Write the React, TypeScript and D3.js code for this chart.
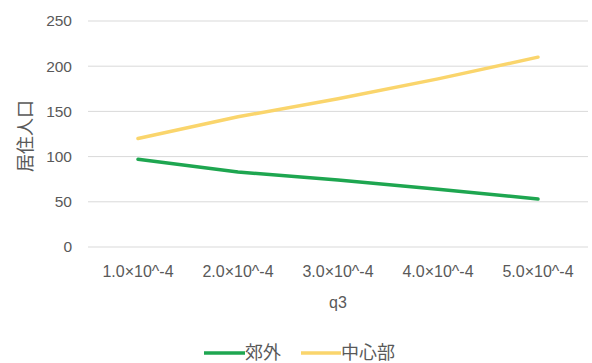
import React from 'react';
import { scaleBand, scaleLinear, line } from 'd3';

const categories = ['1.0×10^-4', '2.0×10^-4', '3.0×10^-4', '4.0×10^-4', '5.0×10^-4'];
const suburbValues = [97, 83, 74, 64, 53];
const centerValues = [120, 144, 164, 186, 210];
const yTicks = [0, 50, 100, 150, 200, 250];

const seriesList = [
    { name: '郊外', values: suburbValues, color: '#1EA650' },
    { name: '中心部', values: centerValues, color: '#FAD56C' },
];

const width = 592;
const height = 363;
const margin = { top: 21, right: 4, bottom: 116, left: 88 };
const textColor = '#595959';
const latinFont = '"Liberation Sans", Arial, sans-serif';
const cjkFont = '"Noto Sans CJK JP", "Noto Sans CJK SC", sans-serif';

function App() {
    const xScale = scaleBand<string>()
        .domain(categories)
        .range([margin.left, width - margin.right]);

    const yScale = scaleLinear()
        .domain([0, 250])
        .range([height - margin.bottom, margin.top]);

    const pathGen = line<number>()
        .x((_, i) => (xScale(categories[i]) ?? 0) + xScale.bandwidth() / 2)
        .y(d => yScale(d));

    const plotBottom = height - margin.bottom;
    const midX = (margin.left + width - margin.right) / 2;

    return (
        <svg width={width} height={height} style={{ position: 'absolute', left: 0, top: 0, background: '#fff' }}>
            {/* grid + y ticks */}
            {yTicks.map(t => (
                <g key={t}>
                    <line x1={margin.left} x2={width - margin.right} y1={yScale(t)} y2={yScale(t)}
                        stroke="#d9d9d9" strokeWidth={1} />
                    <text x={72} y={yScale(t)} dy="0.35em" textAnchor="end" fontSize={15.5}
                        fontFamily={latinFont} fill={textColor}>{t}</text>
                </g>
            ))}

            {/* x tick labels */}
            {categories.map(c => (
                <text key={c} x={(xScale(c) ?? 0) + xScale.bandwidth() / 2} y={plotBottom + 24}
                    dy="0.35em" textAnchor="middle" fontSize={16} fontFamily={latinFont} fill={textColor}>{c}</text>
            ))}

            {/* axis titles */}
            <text x={midX} y={plotBottom + 55} dy="0.35em" textAnchor="middle" fontSize={16}
                fontFamily={latinFont} fill={textColor}>q3</text>
            <text transform={`translate(26,${(margin.top + plotBottom) / 2 + 2}) rotate(-90)`} dy="0.35em"
                textAnchor="middle" fontSize={18} fontFamily={cjkFont} fill={textColor}>居住人口</text>

            {/* lines */}
            {seriesList.map(s => (
                <path key={s.name} d={pathGen(s.values) ?? ''} fill="none" stroke={s.color}
                    strokeWidth={3.5} strokeLinecap="round" />
            ))}

            {/* legend */}
            <g>
                <line x1={204} x2={245} y1={353} y2={353} stroke={seriesList[0].color} strokeWidth={3.5} />
                <text x={245} y={353} dy="0.35em" fontSize={18} fontFamily={cjkFont} fill={textColor}>{seriesList[0].name}</text>
                <line x1={301} x2={341} y1={353} y2={353} stroke={seriesList[1].color} strokeWidth={3.5} />
                <text x={341} y={353} dy="0.35em" fontSize={18} fontFamily={cjkFont} fill={textColor}>{seriesList[1].name}</text>
            </g>
        </svg>
    );
}

export default App;
